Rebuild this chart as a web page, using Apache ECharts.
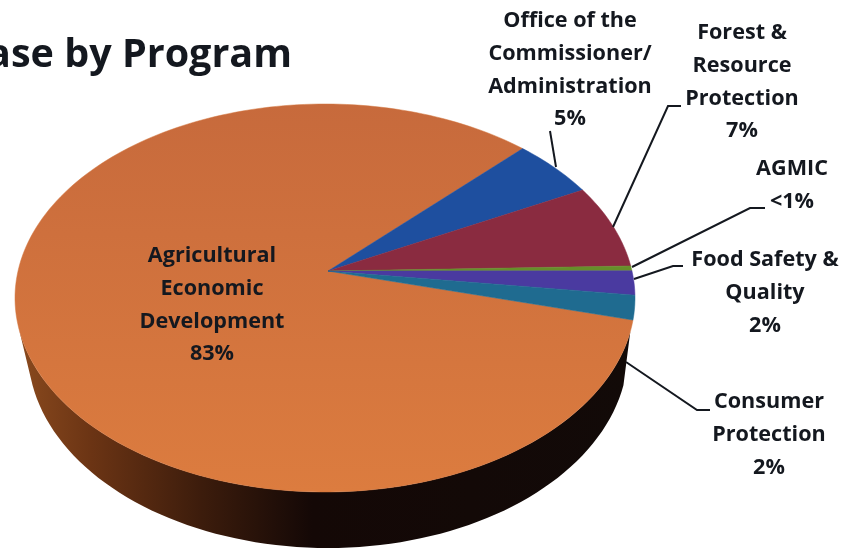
<!DOCTYPE html>
<html>
<head>
<meta charset="utf-8">
<script src="https://cdn.jsdelivr.net/npm/echarts@6/dist/echarts.min.js"></script>
<style>html,body{margin:0;padding:0;background:#fff}#chart{width:859px;height:551px}</style>
</head>
<body>
<div id="chart"></div>
<script>
// Program shares, clockwise from the lower right edge of the pie
const programs = ['Agricultural\nEconomic\nDevelopment', 'Office of the\nCommissioner/\nAdministration', 'Forest &\nResource\nProtection', 'AGMIC', 'Food Safety &\nQuality', 'Consumer\nProtection'];
const shares = [83, 5, 7, 0.4, 2, 2];
const shareLabels = ['83%', '5%', '7%', '<1%', '2%', '2%'];
const sliceColors = [
  {type:'linear',x:0,y:0,x2:0,y2:1,colorStops:[{offset:0,color:'#c76a3c'},{offset:1,color:'#dc7c3f'}]},
  '#1e4f9f', '#8a2b40', '#668f2a', '#4a3aa0', '#1f6b90'
];
const titleText = 'ase by Program';

// Geometry of the tilted disc
const face = {cx:325, cy:298, rx:310, ry:194};
const base = {cx:328, cy:351, rx:300, ry:197};
const tilt = -0.139;          // perspective shift of the pie centre inside the ellipse
const startDeg = 14.4;

// Perspective projection of a point on the unit circle to the screen
function project(deg){
  const a = deg * Math.PI / 180, c = Math.cos(a), s = Math.sin(a);
  const d = 1 + tilt * s;
  return [face.cx + face.rx * c * Math.sqrt(1 - tilt * tilt) / d, face.cy + face.ry * (s + tilt) / d];
}
const apex = [face.cx + 3, face.cy + face.ry * tilt];

const total = shares.reduce((a, b) => a + b, 0);
let running = 0;
const sliceData = shares.map((v, i) => {
  const from = running; running += v;
  return {value:[from, running, i], name:programs[i]};
});

function renderSlice(params, api){
  const a0 = startDeg + api.value(0) / total * 360;
  const a1 = startDeg + api.value(1) / total * 360;
  const i = api.value(2);
  const pts = [apex];
  const n = Math.max(4, Math.ceil((a1 - a0) / 1.5));
  for(let k = 0; k <= n; k++) pts.push(project(a0 + (a1 - a0) * k / n));
  const color = sliceColors[i];
  return {type:'polygon', shape:{points:pts}, style:{fill:color, stroke:typeof color === 'string' ? color : '#d2743d', lineWidth:0.5}};
}

function renderWall(){
  const pts = [];
  for(let d = 10; d <= 172; d += 2){
    const a = d * Math.PI / 180;
    pts.push([face.cx + face.rx * Math.cos(a), face.cy + face.ry * Math.sin(a)]);
  }
  for(let d = 172; d >= 10; d -= 2){
    const a = d * Math.PI / 180;
    pts.push([base.cx + base.rx * Math.cos(a), base.cy + base.ry * Math.sin(a)]);
  }
  return {type:'polygon', shape:{points:pts}, style:{fill:{type:'linear',x:0,y:0,x2:1,y2:0,colorStops:[
    {offset:0,color:'#8a4a1e'},{offset:0.12,color:'#6b3414'},{offset:0.3,color:'#3c1c0c'},
    {offset:0.48,color:'#140806'},{offset:1,color:'#120a08'}
  ]}}};
}

// Label blocks and their leader lines
const labelPlaces = [[212,305],[570,70],[742,82],[792,185],[765,293],[769,435]];
const leaders = [
  null,
  [[556,167],[550,131]],
  [[613,227],[668,106],[681,106]],
  [[632,267],[750,208],[765,208]],
  [[634,279],[673,266],[683,266]],
  [[626,362],[697,410],[710,410]]
];
const fontFamily = '"Open Sans", Lato, sans-serif';

function renderLabel(params, api){
  const i = api.value(0);
  const children = [{
    type:'text',
    style:{
      x:labelPlaces[i][0], y:labelPlaces[i][1],
      text:(programs[i] + '\n' + shareLabels[i]),
      align:'center', verticalAlign:'middle',
      font:'bold 21.6px ' + fontFamily, lineHeight:32.7, fill:'#14181f'
    }
  }];
  if(leaders[i]) children.push({type:'polyline', shape:{points:leaders[i]}, style:{stroke:'#14181f', lineWidth:2, fill:null}});
  return {type:'group', children};
}

const chart = echarts.init(document.getElementById('chart'), null, {renderer:'canvas'});
chart.setOption({
  animation:false,
  backgroundColor:'#ffffff',
  graphic:[{type:'text', z:10, style:{x:292, y:56, text:titleText, align:'right', verticalAlign:'middle', font:'bold 39.5px ' + fontFamily, fill:'#14181f'}}],
  series:[
    {type:'custom', coordinateSystem:'none', z:1, silent:true, renderItem:renderWall, data:[[0]]},
    {type:'custom', coordinateSystem:'none', z:2, silent:true, renderItem:renderSlice, data:sliceData},
    {type:'custom', coordinateSystem:'none', z:3, silent:true, renderItem:renderLabel, data:programs.map((p, i) => [i])}
  ]
});
</script>
</body>
</html>
